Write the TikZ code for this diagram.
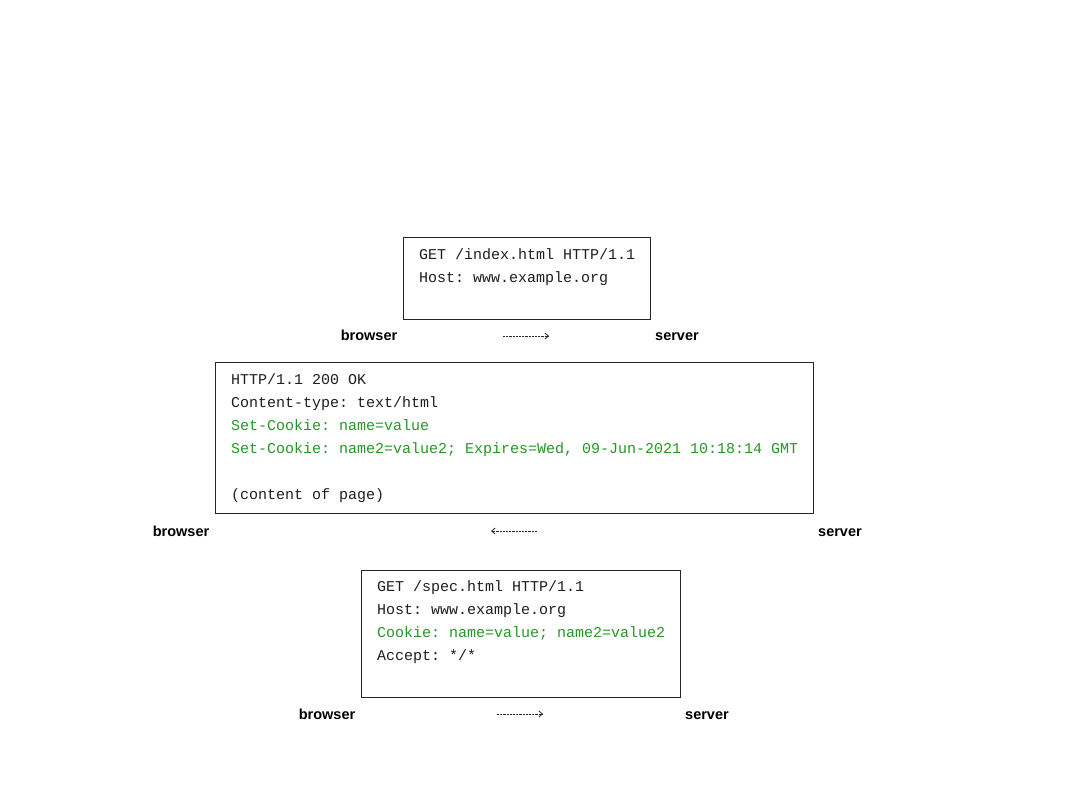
\documentclass[tikz,border=0pt]{standalone}
\usepackage{fontspec}
\setmainfont{Liberation Sans}
\newfontfamily\codefont{Liberation Mono}
\usetikzlibrary{arrows.meta,calc}
\definecolor{cookiegreen}{RGB}{38,150,38}
\definecolor{codeblack}{RGB}{30,30,30}
\frenchspacing
\tikzset{
  msgbox/.style={draw=black!85, line width=0.9pt, anchor=north west, inner sep=0pt},
  codeline/.style={anchor=base west, inner sep=0pt, text=codeblack, font=\codefont\fontsize{15}{18}\selectfont},
  cookieline/.style={codeline, text=cookiegreen},
  party/.style={anchor=base, inner sep=0pt, font=\bfseries\fontsize{14.5}{17}\selectfont},
  flow/.style={draw=black!85, line width=0.8pt, dash pattern=on 2.2pt off 1pt, -{Straight Barb[length=3.5pt,width=6pt]}}
}
\begin{document}
\begin{tikzpicture}[x=1pt,y=-1pt]
\useasboundingbox (0,0) rectangle (1080,810);
% box 1
\node[msgbox, minimum width=247pt, minimum height=82pt] (req1) at (403,237) {};
\node[codeline] (r1a) at ($(req1.north west)+(16,22.5)$) {GET /index.html HTTP/1.1};
\node[codeline] (r1b) at ($(req1.north west)+(16,45.5)$) {Host: www.example.org};
\node[party] (b1) at (369,341) {browser};
\node[party] (s1) at (677,341) {server};
\coordinate (a1s) at (503,336);
\coordinate (a1e) at (549,336);
\draw[flow] (a1s) -- (a1e);
% box 2
\node[msgbox, minimum width=598pt, minimum height=151pt] (resp) at (215,362) {};
\node[codeline] (p1) at ($(resp.north west)+(16,22.5)$) {HTTP/1.1 200 OK};
\node[codeline] (p2) at ($(resp.north west)+(16,45.5)$) {Content-type: text/html};
\node[cookieline] (p3) at ($(resp.north west)+(16,68.5)$) {Set-Cookie: name=value};
\node[cookieline] (p4) at ($(resp.north west)+(16,91.5)$) {Set-Cookie: name2=value2; Expires=Wed, 09-Jun-2021 10:18:14 GMT};
\node[codeline] (p5) at ($(resp.north west)+(16,137.5)$) {(content of page)};
\node[party] (b2) at (181,536) {browser};
\node[party] (s2) at (840,536) {server};
\coordinate (a2s) at (537,531);
\coordinate (a2e) at (491,531);
\draw[flow] (a2s) -- (a2e);
% box 3
\node[msgbox, minimum width=319pt, minimum height=127pt] (req2) at (361,570) {};
\node[codeline] (q1) at ($(req2.north west)+(16,21.5)$) {GET /spec.html HTTP/1.1};
\node[codeline] (q2) at ($(req2.north west)+(16,44.5)$) {Host: www.example.org};
\node[cookieline] (q3) at ($(req2.north west)+(16,67.5)$) {Cookie: name=value; name2=value2};
\node[codeline] (q4) at ($(req2.north west)+(16,90.5)$) {Accept: */*};
\node[party] (b3) at (327,719) {browser};
\node[party] (s3) at (707,719) {server};
\coordinate (a3s) at (497,714);
\coordinate (a3e) at (543,714);
\draw[flow] (a3s) -- (a3e);
\end{tikzpicture}
\end{document}
